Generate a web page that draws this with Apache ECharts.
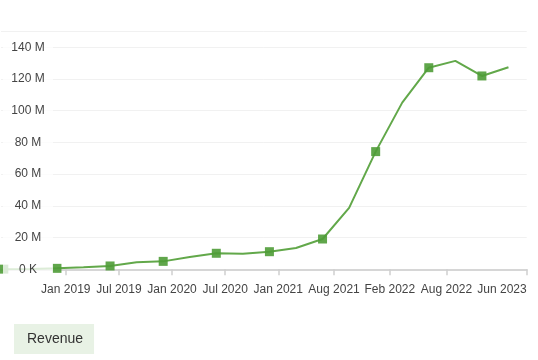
<!DOCTYPE html>
<html>
<head>
<meta charset="utf-8">
<script src="https://cdn.jsdelivr.net/npm/echarts@6/dist/echarts.min.js"></script>
<style>html,body{margin:0;padding:0;background:#fff;}#c{width:538px;height:360px;}</style>
</head>
<body>
<div id="c"></div>
<script>
// Quarterly revenue (millions)
const quarters = ['2018-06','2018-09','2018-12','2019-03','2019-06','2019-09','2019-12','2020-03','2020-06','2020-09','2020-12','2021-03','2021-06','2021-09','2021-12','2022-03','2022-06','2022-09','2022-12','2023-03'];
const revenue = [0.1, 0.2, 0.6, 1.3, 2.1, 4.4, 5.0, 7.7, 10.1, 9.8, 11.1, 13.4, 19.1, 38.7, 74.2, 105.1, 127.1, 131.4, 121.9, 127.4];
// x tick labels and their positions (months since Jan 2019)
const tickLabels = ['Jan 2019','Jul 2019','Jan 2020','Jul 2020','Jan 2021','Aug 2021','Feb 2022','Aug 2022','Jun 2023'];
const tickMonths = [0, 6, 12, 18, 24, 30.3, 36.6, 43, 52.06];
const xMin = -7.32, xMax = 52.06;
const seriesName = 'Revenue';

function monthIndex(s){ const [y,m] = s.split('-').map(Number); return (y-2019)*12 + (m-1); }
const points = quarters.map((q,i)=>({
  value:[monthIndex(q), revenue[i]],
  symbol: i % 2 === 0 ? 'rect' : 'none'
}));
const font = 'Liberation Sans, Arial, sans-serif';
function yFmt(v){ return v === 0 ? '0 K' : v + ' M'; }
function xFmt(v){
  let best = 0, d = 1e9;
  tickMonths.forEach((t,i)=>{ const dd=Math.abs(t-v); if(dd<d){d=dd;best=i;} });
  return tickLabels[best];
}
const chart = echarts.init(document.getElementById('c'), null, {renderer:'canvas'});
chart.setOption({
  animation:false,
  grid:{left:0, right:11.3, top:31.4, bottom:90.7, containLabel:false},
  legend:{
    data:[{name:seriesName, icon:'none'}],
    left:14, top:324, itemWidth:0, itemHeight:14, itemGap:0,
    padding:[8,11,8,8], backgroundColor:'#e8f2e5', borderRadius:0,
    selectedMode:false,
    textStyle:{fontSize:14, color:'#333', fontFamily:font}
  },
  xAxis:{
    type:'value', min:xMin, max:xMax,
    splitLine:{show:false},
    axisLine:{show:true, lineStyle:{color:'#d6d6d6', width:2}},
    axisTick:{show:true, customValues:tickMonths, length:6, lineStyle:{color:'#cfcfcf', width:1.5}},
    axisLabel:{customValues:tickMonths, formatter:xFmt, margin:14, fontSize:12, color:'#444', fontFamily:font, alignMaxLabel:'right'}
  },
  yAxis:[{
    type:'value', position:'left', min:0, max:150, interval:20,
    axisLine:{show:false}, axisTick:{show:false}, axisLabel:{show:false},
    splitLine:{show:true, lineStyle:{color:'#f1f1f1', width:1}}
  },{
    type:'value', position:'left', offset:0, min:0, max:150, interval:20, z:10,
    axisLine:{show:false}, axisTick:{show:false}, splitLine:{show:false},
    axisLabel:{inside:true, margin:27, align:'center', showMaxLabel:false, formatter:yFmt,
      fontSize:12, color:'#444', fontFamily:font, width:50, backgroundColor:'rgba(255,255,255,0.78)', padding:[2,0,2,0]}
  }],
  series:[{
    name:seriesName, type:'line', yAxisIndex:0, data:points,
    symbolSize:9, clip:true,
    lineStyle:{color:'#62a84a', width:2},
    itemStyle:{color:'#4f9c37', opacity:0.9},
    z:2
  }]
});
</script>
</body>
</html>
